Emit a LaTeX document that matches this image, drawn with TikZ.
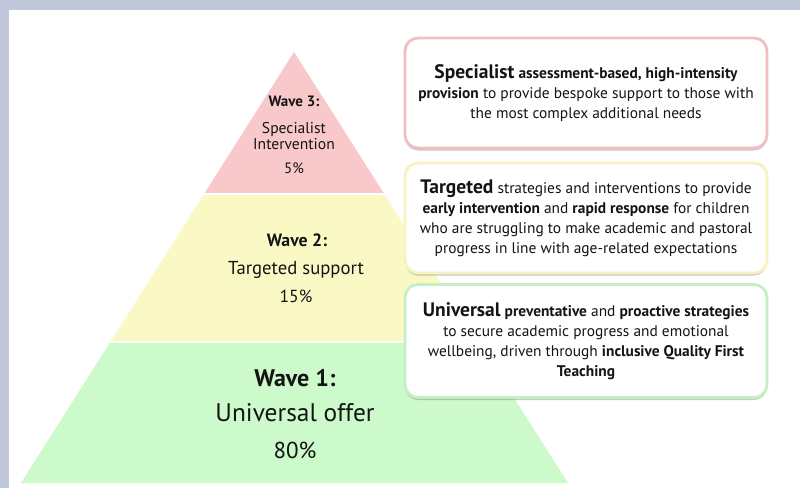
\documentclass[tikz,border=0pt]{standalone}
\usepackage{fontspec}
\setmainfont{PT Sans}
\usetikzlibrary{positioning,calc,shadows}
\definecolor{framegray}{RGB}{193,200,220}
\definecolor{wavered}{RGB}{248,200,202}
\definecolor{waveyellow}{RGB}{250,249,198}
\definecolor{wavegreen}{RGB}{204,250,202}
\definecolor{redline}{RGB}{242,190,195}
\definecolor{yellowline}{RGB}{246,243,190}
\definecolor{greenline}{RGB}{194,240,194}
\definecolor{inkgray}{RGB}{20,20,20}

\tikzset{
  infobox/.style={draw,line width=2.8pt,rounded corners=13pt,fill=white,
                  minimum width=362pt,align=center,text=inkgray,
                  font=\fontsize{15.4}{20}\selectfont,
                  drop shadow={shadow xshift=0pt,shadow yshift=-2.5pt,
                               fill=black!60,opacity=0.35}},
  wavetext/.style={text=inkgray,align=center}
}
\newcommand{\lead}[1]{{\fontsize{19.5}{20}\selectfont\bfseries #1}}

\begin{document}
\begin{tikzpicture}[x=1pt,y=-1pt]
  \useasboundingbox (0,0) rectangle (800,488);
  % frame
  \fill[framegray] (0,0) rectangle (800,488);
  \fill[white] (9,10) rectangle (800,488);

  % pyramid
  \coordinate (apex) at (294,52);
  \coordinate (baseL) at (21,483);
  \coordinate (baseR) at (568,483);
  \fill[wavered] (apex) -- ($(apex)!0.3271!(baseR)$) -- ($(apex)!0.3271!(baseL)$) -- cycle;
  \fill[waveyellow] ($(apex)!0.3318!(baseL)$) -- ($(apex)!0.3318!(baseR)$)
       -- ($(apex)!0.6705!(baseR)$) -- ($(apex)!0.6705!(baseL)$) -- cycle;
  \fill[wavegreen] ($(apex)!0.6752!(baseL)$) -- ($(apex)!0.6752!(baseR)$)
       -- (baseR) -- (baseL) -- cycle;

  % wave 3
  \node[wavetext,font=\fontsize{15}{17}\selectfont\bfseries] (w3head) at (294,101) {Wave 3:};
  \node[wavetext,font=\fontsize{15.6}{16.5}\selectfont] (w3name) at (294,136) {Specialist\\Intervention};
  \node[wavetext,font=\fontsize{15}{17}\selectfont] (w3pct) at (294,168) {5\%};
  % wave 2
  \node[wavetext,font=\fontsize{17.8}{20}\selectfont\bfseries] (w2head) at (297,240) {Wave 2:};
  \node[wavetext,font=\fontsize{18.7}{21}\selectfont] (w2name) at (296,270) {Targeted support};
  \node[wavetext,font=\fontsize{17.5}{20}\selectfont] (w2pct) at (296,296) {15\%};
  % wave 1
  \node[wavetext,font=\fontsize{24}{26}\selectfont\bfseries] (w1head) at (295,378) {Wave 1:};
  \node[wavetext,font=\fontsize{25.4}{27}\selectfont] (w1name) at (295,413) {Universal offer};
  \node[wavetext,font=\fontsize{23}{25}\selectfont] (w1pct) at (295,450) {80\%};

  % descriptions
  \node[infobox,draw=redline,minimum height=110pt] (specialist) at (586,93)
    {\lead{Specialist} \textbf{assessment-based, high-intensity}\\
     \textbf{provision} to provide bespoke support to those with\\
     the most complex additional needs};
  \node[infobox,draw=yellowline,minimum height=110pt] (targeted) at (586,218)
    {\lead{Targeted} strategies and interventions to provide\\
     \textbf{early intervention} and \textbf{rapid response} for children\\
     who are struggling to make academic and pastoral\\
     progress in line with age-related expectations};
  \node[infobox,draw=greenline,minimum height=113pt] (universal) at (586,341)
    {\lead{Universal} \textbf{preventative} and \textbf{proactive strategies}\\
     to secure academic progress and emotional\\
     wellbeing, driven through \textbf{inclusive Quality First}\\
     \textbf{Teaching}};
\end{tikzpicture}
\end{document}
